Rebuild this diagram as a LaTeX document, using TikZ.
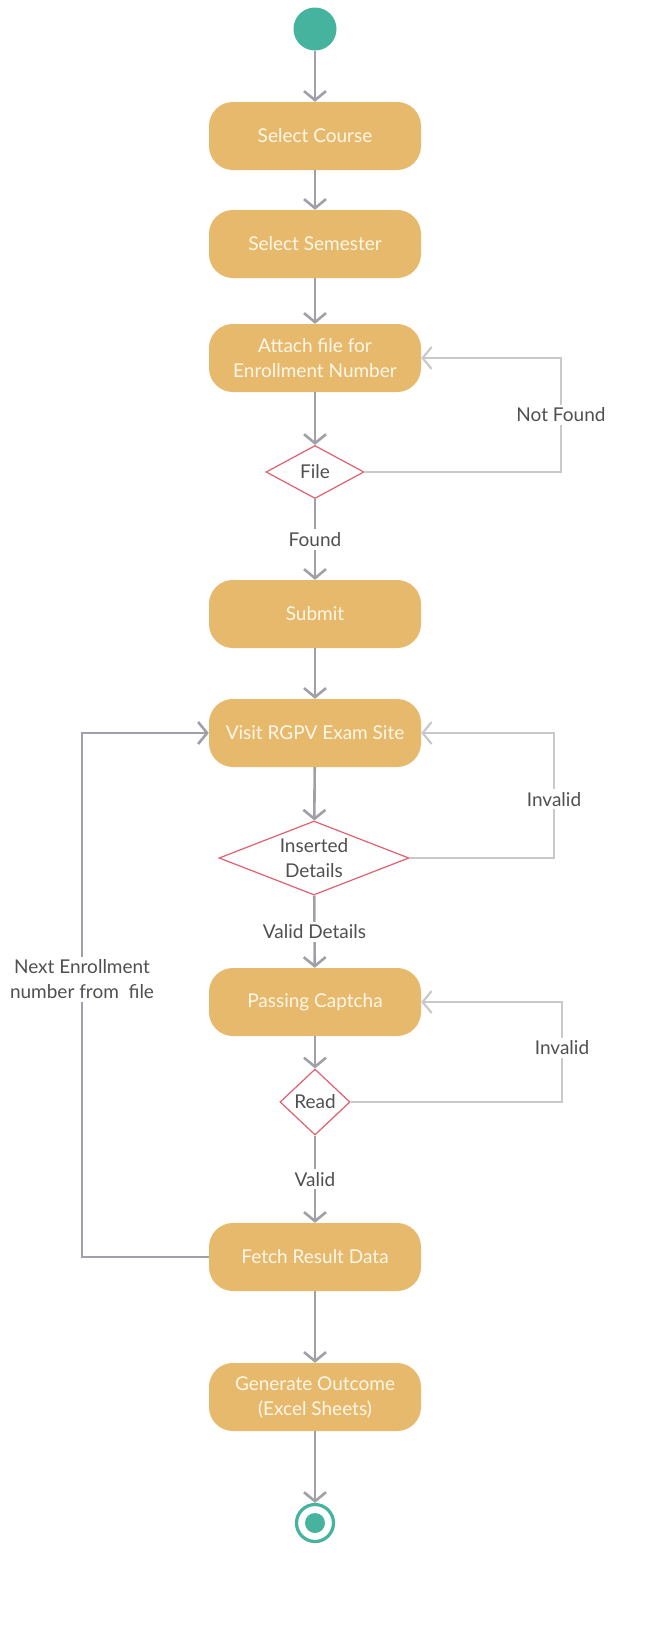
\documentclass[tikz,border=0pt]{standalone}
\usepackage{fontspec}
\setmainfont{Lato}
\usetikzlibrary{shapes.geometric,arrows.meta}
\definecolor{boxc}{HTML}{E6B96D}
\definecolor{boxtext}{HTML}{FFF7E8}
\definecolor{linec}{HTML}{A0A0A8}
\definecolor{loopc}{HTML}{C9C9CB}
\definecolor{teal}{HTML}{45B39D}
\definecolor{diac}{HTML}{E0606F}
\definecolor{labc}{HTML}{505050}
\tikzset{
  act/.style={rectangle, rounded corners=24pt, fill=boxc, minimum width=212pt, minimum height=68pt,
    text=boxtext, align=center, inner sep=0pt, font=\fontsize{19}{25}\selectfont},
  dec/.style={diamond, draw=diac, line width=1.2pt, fill=white, inner sep=-6pt, text=labc,
    align=center, font=\fontsize{19}{25}\selectfont},
  flow/.style={draw=linec, line width=2.6pt, -{Straight Barb[length=9pt,width=22pt]}},
  back/.style={draw=loopc, line width=2.2pt, -{Straight Barb[length=9pt,width=22pt]}},
  lbl/.style={fill=white, text=labc, inner sep=3pt, align=center, font=\fontsize{19}{25}\selectfont},
}
\begin{document}
\begin{tikzpicture}[x=1pt,y=-1pt]
\useasboundingbox (0,0) rectangle (661,1652);
\fill[white] (0,0) rectangle (661,1652);

\node[circle, fill=teal, minimum size=43pt, inner sep=0pt] (start) at (315,29) {};
\node[act] (course) at (315,136) {Select Course};
\node[act] (sem) at (315,244) {Select Semester};
\node[act] (attach) at (315,358) {Attach file for\\Enrollment Number};
\node[dec, aspect=1.85, minimum width=98pt, minimum height=53pt] (file) at (315,472) {File};
\node[act] (submit) at (315,614) {Submit};
\node[act] (visit) at (315,733) {Visit RGPV Exam Site};
\node[dec, aspect=2.57, minimum width=190pt, minimum height=74pt] (ins) at (314,858) {Inserted\\Details};
\node[act] (capt) at (315,1002) {Passing Captcha};
\node[dec, aspect=1.06, minimum width=70pt, minimum height=66pt] (read) at (315,1102) {Read};
\node[act] (fetch) at (315,1257) {Fetch Result Data};
\node[act] (gen) at (315,1397) {Generate Outcome\\(Excel Sheets)};
\node[circle, draw=teal, line width=3.2pt, minimum size=37pt, inner sep=0pt] (end) at (315,1523) {};
\fill[teal] (end.center) circle (10pt);

\draw[flow] (start) -- (course);
\draw[flow] (course) -- (sem);
\draw[flow] (sem) -- (attach);
\draw[flow] (attach) -- (file);
\draw[flow] (file) -- node[lbl]{Found} (submit);
\draw[flow] (submit) -- (visit);
\draw[flow] (visit) -- (ins);
\draw[flow] (ins) -- node[lbl]{Valid Details} (capt);
\draw[flow] (capt) -- (read);
\draw[flow] (read) -- node[lbl]{Valid} (fetch);
\draw[flow] (fetch) -- (gen);
\draw[flow] (gen) -- (end);

\coordinate (nf1) at (561,472);
\coordinate (nf2) at (561,358);
\draw[back] (file.east) -- (nf1) -- node[lbl]{Not Found} (nf2) -- (attach.east);

\coordinate (iv1) at (554,858);
\coordinate (iv2) at (554,733);
\draw[back] (ins.east) -- (iv1) -- node[lbl, pos=0.47]{Invalid} (iv2) -- (visit.east);

\coordinate (ic1) at (562,1102);
\coordinate (ic2) at (562,1002);
\draw[back] (read.east) -- (ic1) -- node[lbl, pos=0.54]{Invalid} (ic2) -- (capt.east);

\coordinate (ne1) at (82,1257);
\coordinate (ne2) at (82,733);
\draw[flow] (fetch.west) -- (ne1) -- node[lbl, pos=0.53]{Next Enrollment\\number from\ \ file} (ne2) -- (visit.west);
\end{tikzpicture}
\end{document}
